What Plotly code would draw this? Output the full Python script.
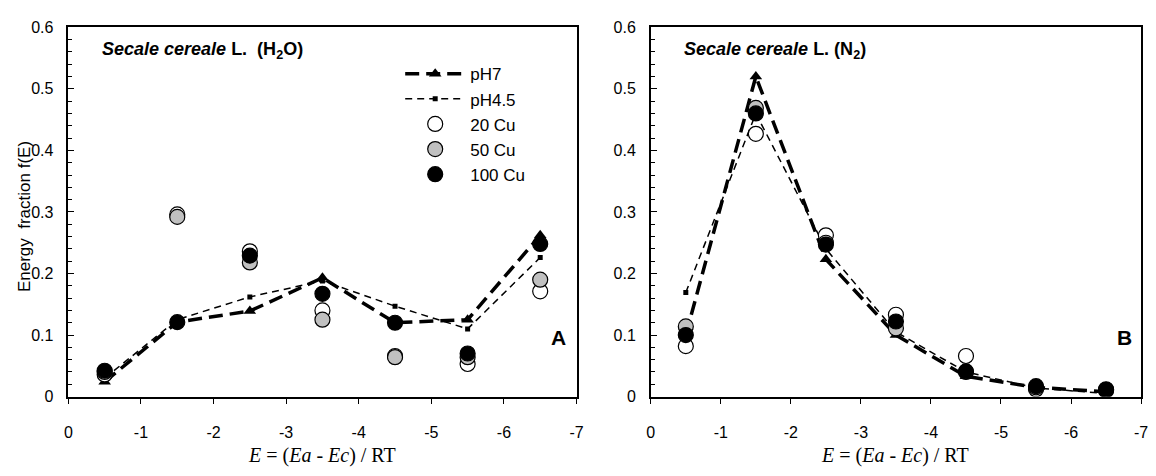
import plotly.graph_objects as go

E = [-0.5, -1.5, -2.5, -3.5, -4.5, -5.5, -6.5]

# Panel A: Secale cereale L. (H2O)
a_ph7 = [0.024, 0.121, 0.139, 0.193, 0.120, 0.125, 0.262]
a_ph45 = [0.030, 0.125, 0.162, 0.188, 0.147, 0.110, 0.226]
a_cu20 = [0.036, 0.296, 0.236, 0.140, 0.066, 0.053, 0.171]
a_cu50 = [0.040, 0.292, 0.218, 0.125, 0.064, 0.064, 0.190]
a_cu100 = [0.042, 0.121, 0.229, 0.167, 0.120, 0.070, 0.248]

# Panel B: Secale cereale L. (N2)
b_ph7 = [0.100, 0.520, 0.223, 0.100, 0.033, 0.015, 0.008]
b_ph45 = [0.169, 0.460, 0.240, 0.105, 0.040, 0.014, 0.005]
b_cu20 = [0.082, 0.427, 0.262, 0.133, 0.066, 0.012, 0.010]
b_cu50 = [0.114, 0.469, 0.250, 0.111, 0.040, 0.015, 0.012]
b_cu100 = [0.100, 0.460, 0.247, 0.122, 0.041, 0.017, 0.011]

x_ticks = [0, -1, -2, -3, -4, -5, -6, -7]
x_ticklabels = ["0", "-1", "-2", "-3", "-4", "-5", "-6", "-7"]

W, H = 1156, 476
fig = go.Figure()

def add_panel(xa, ya, ph7, ph45, c20, c50, c100, show):
    fig.add_trace(go.Scatter(x=E, y=ph7, mode="lines+markers", name="pH7", xaxis=xa, yaxis=ya,
                             line=dict(color="black", width=3.5, dash="14px,7px"),
                             marker=dict(symbol="triangle-up", size=11, color="black"),
                             showlegend=show))
    fig.add_trace(go.Scatter(x=E, y=ph45, mode="lines+markers", name="pH4.5", xaxis=xa, yaxis=ya,
                             line=dict(color="black", width=1.5, dash="7px,5px"),
                             marker=dict(symbol="square", size=5, color="black"),
                             showlegend=show))
    for vals, fill, nm in [(c20, "white", "20 Cu"), (c50, "#c0c0c0", "50 Cu"), (c100, "black", "100 Cu")]:
        fig.add_trace(go.Scatter(x=E, y=vals, mode="markers", name=nm, xaxis=xa, yaxis=ya,
                                 marker=dict(symbol="circle", size=15, color=fill,
                                             line=dict(color="black", width=1.2)),
                                 showlegend=show))

add_panel("x", "y", a_ph7, a_ph45, a_cu20, a_cu50, a_cu100, True)
add_panel("x2", "y2", b_ph7, b_ph45, b_cu20, b_cu50, b_cu100, False)

ydom = [1 - 403 / H, 1 - 20 / H]
common_x = dict(range=[0, -7], tickmode="array", tickvals=x_ticks, ticktext=x_ticklabels,
                ticks="outside", ticklen=6, tickwidth=1.2, tickcolor="black",
                showline=True, linecolor="black", linewidth=1.5, mirror=True,
                showgrid=False, zeroline=False, ticklabelstandoff=14,
                tickfont=dict(family="Liberation Sans, Arial", size=16, color="black"))
common_y = dict(range=[0, 0.6], dtick=0.1, ticks="inside", ticklen=6, tickwidth=1.2, tickcolor="black",
                minor=dict(dtick=0.02, ticks="inside", ticklen=4, tickcolor="black", tickwidth=1),
                showline=True, linecolor="black", linewidth=1.5, mirror=True,
                showgrid=False, zeroline=False, ticklabelstandoff=10,
                tickfont=dict(family="Liberation Sans, Arial", size=16, color="black"))

fig.update_layout(
    width=W, height=H,
    margin=dict(l=0, r=0, t=0, b=0),
    paper_bgcolor="white", plot_bgcolor="white",
    xaxis=dict(domain=[65 / W, 578 / W], anchor="y", **common_x),
    yaxis=dict(domain=ydom, anchor="x", **common_y),
    xaxis2=dict(domain=[653 / W, 1148 / W], anchor="y2", **common_x),
    yaxis2=dict(domain=ydom, anchor="x2", **common_y),
    legend=dict(x=400 / W, y=1 - 50 / H, xanchor="left", yanchor="top",
                bgcolor="rgba(0,0,0,0)", itemwidth=60, tracegroupgap=0,
                font=dict(family="Liberation Sans, Arial", size=17, color="black")),
    font=dict(family="Liberation Sans, Arial", color="black"),
)

ann = []
ann.append(dict(text="<b><i>Secale cereale</i> L.  (H<sub>2</sub>O)</b>", x=97 / W, y=1 - 44 / H,
                xref="paper", yref="paper", xanchor="left", yanchor="middle", showarrow=False,
                font=dict(family="Liberation Sans, Arial", size=18, color="black")))
ann.append(dict(text="<b><i>Secale cereale</i> L. (N<sub>2</sub>)</b>", x=685 / W, y=1 - 44 / H,
                xref="paper", yref="paper", xanchor="left", yanchor="middle", showarrow=False,
                font=dict(family="Liberation Sans, Arial", size=18, color="black")))
ann.append(dict(text="<b>A</b>", x=560 / W, y=1 - 342 / H, xref="paper", yref="paper",
                xanchor="center", yanchor="middle", showarrow=False,
                font=dict(family="Liberation Sans, Arial", size=21, color="black")))
ann.append(dict(text="<b>B</b>", x=1131 / W, y=1 - 342 / H, xref="paper", yref="paper",
                xanchor="center", yanchor="middle", showarrow=False,
                font=dict(family="Liberation Sans, Arial", size=21, color="black")))
ann.append(dict(text="Energy  fraction f(E)", x=20 / W, y=1 - 216 / H, xref="paper", yref="paper",
                xanchor="center", yanchor="middle", textangle=-90, showarrow=False,
                font=dict(family="Liberation Sans, Arial", size=17, color="black")))
xt = "<i>E</i> = (<i>Ea</i> - <i>Ec</i>) / RT"
ann.append(dict(text=xt, x=321 / W, y=1 - 464 / H, xref="paper", yref="paper",
                xanchor="center", yanchor="middle", showarrow=False,
                font=dict(family="Liberation Serif, Times New Roman", size=20, color="black")))
ann.append(dict(text=xt, x=900 / W, y=1 - 464 / H, xref="paper", yref="paper",
                xanchor="center", yanchor="middle", showarrow=False,
                font=dict(family="Liberation Serif, Times New Roman", size=20, color="black")))
fig.update_layout(annotations=ann)

fig.write_html("out.html")
